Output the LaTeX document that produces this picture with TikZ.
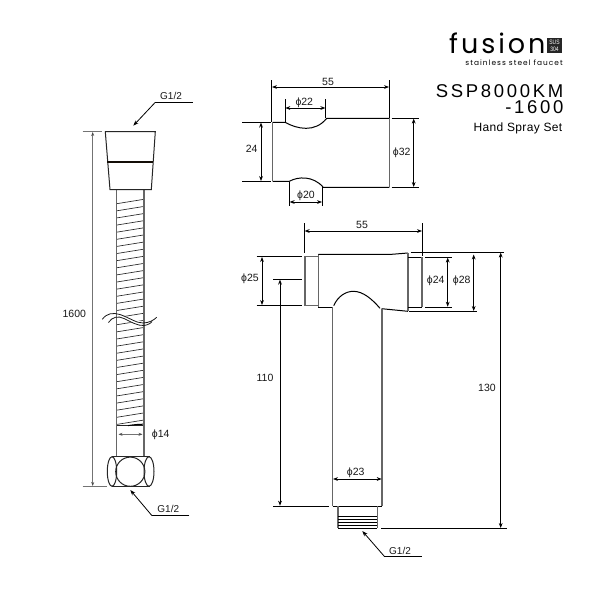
\documentclass[tikz,border=0pt]{standalone}
\usepackage{fontspec}
\setmainfont{Liberation Sans}
\newfontfamily\logofont[LetterSpace=11]{Poppins}
\newfontfamily\subfont[LetterSpace=14]{Poppins}
\newfontfamily\modelfont[LetterSpace=14.5]{Liberation Sans}
\newfontfamily\setfont[LetterSpace=3]{Liberation Sans}
\usetikzlibrary{arrows.meta}
\tikzset{
  outline/.style={black,line width=1pt},
  grayline/.style={black!60,line width=1.3pt},
  thinline/.style={black!90,line width=0.8pt},
  extline/.style={black,line width=0.8pt},
  grayext/.style={black!55,line width=0.7pt},
  dimline/.style={black,line width=0.8pt,{Stealth[length=5pt,width=3.8pt]}-{Stealth[length=5pt,width=3.8pt]}},
  graydim/.style={black!55,line width=0.9pt,{Stealth[length=4pt,width=3pt,black!70]}-{Stealth[length=4pt,width=3pt,black!70]}},
  leader/.style={black,line width=0.8pt,-{Stealth[length=5.5pt,width=4pt]}},
  dimtext/.style={font=\fontsize{10.5}{12}\selectfont,inner sep=0pt,black!90},
}
\begin{document}
\begin{tikzpicture}[x=1pt,y=-1pt]
\useasboundingbox (0,0) rectangle (600,600);
\fill[white] (0,0) rectangle (600,600);

% ---- logo and title
\node[anchor=base west,inner sep=0pt,font=\logofont\fontsize{27}{27}\selectfont] (logo) at (449,53) {fusion};
\fill[black!85] (547,38) rectangle (562,53);
\node[inner sep=0pt,white,font=\fontsize{6.4}{7}\selectfont] (sus) at (554.5,41.8) {\scalebox{0.78}[1]{SUS}};
\node[inner sep=0pt,white,font=\fontsize{6.4}{7}\selectfont] (grade) at (554.5,49.4) {\scalebox{0.78}[1]{304}};
\node[anchor=base east,inner sep=0pt,font=\subfont\fontsize{7.4}{8}\selectfont] (tag) at (563,65) {stainless steel faucet};
\node[anchor=base east,inner sep=0pt,font=\modelfont\fontsize{18.5}{20}\selectfont] (model) at (563.5,97) {SSP8000KM};
\node[anchor=base east,inner sep=0pt,font=\modelfont\fontsize{18.5}{20}\selectfont] (model2) at (563.5,113) {-1600};
\node[anchor=base east,inner sep=0pt,font=\setfont\fontsize{12}{14}\selectfont] (setname) at (562.5,131) {Hand Spray Set};

% ---- hose: threads
\begin{scope}
\clip (116.7,190) rectangle (144,424);
\foreach \k in {0,...,31}{
  \pgfmathsetmacro{\yy}{203.7+7.12*\k}
  \draw[black!85,line width=0.65pt] (116.7,\yy) -- (144,\yy-4.4);
}
\end{scope}
\fill[white] (116,317) .. controls (125,313) and (135,322) .. (146,322) -- (146,326) .. controls (135,326) and (125,318) .. (116,321) -- cycle;
\draw[black!85,line width=0.65pt] (116.7,425.7) -- (144,425.7);
\draw[black,line width=1pt] (128,425.6) .. controls (134,424.6) and (139,424.2) .. (144,424.2);

% ---- hose: sides
\draw[grayline,line width=1.1pt] (116.7,190) -- (116.7,456.7);
\draw[grayline,line width=1.1pt] (144,190) -- (144,456.7);

% ---- head
\draw[outline,black!85,fill=white] (105.3,131.7) -- (155.3,131.7) -- (151.3,189.7) -- (110,189.7) -- cycle;
\draw[line width=2pt,black!90!brown] (107.3,161.7) -- (153.3,161.7);

% ---- nut
\draw[outline,black!85] (111.7,456.7) -- (150,456.7) (111.7,486.3) -- (150,486.3);
\draw[outline,black!85] (112,471.5) ellipse (4.7 and 14.8);
\draw[outline,black!85] (149,471.5) ellipse (5 and 14.8);
\draw[outline,black!85] (130.3,471.7) circle (14.6);

% ---- break waves
\draw[thinline] (102.3,319.3) .. controls (107,313) and (113,312.5) .. (120,314.5) .. controls (130,318) and (136,323) .. (143,323) .. controls (149,323) and (154,320) .. (156.7,317.3);
\draw[thinline] (108.5,322.5) .. controls (112,317) and (118,315.5) .. (124,318.5) .. controls (131,322) and (138,326) .. (144,325.5) .. controls (148,325) and (151,323) .. (152,321.5);

% ---- hose dimensions
\draw[grayext] (82.7,131.7) -- (102.3,131.7);
\draw[grayext] (82.7,486.3) -- (107,486.3);
\draw[graydim] (92.7,132) -- (92.7,486);
\node[dimtext] (lenh) at (74.3,313.7) {1600};
\draw[graydim,line width=0.7pt] (118.5,434.3) -- (142.5,434.3);
\node[dimtext] (dhose) at (160.7,434.7) {ϕ14};

\coordinate (gtopa) at (133.3,125.7);
\coordinate (gbota) at (130.3,490);
\coordinate (gtopb) at (155.3,102.3);
\coordinate (gbotb) at (152,515.7);
\draw[extline] (192.7,102.3) -- (gtopb);
\draw[leader] (gtopb) -- (gtopa);
\node[dimtext,font=\fontsize{10}{11}\selectfont] (gtop) at (171,96.3) {G1/2};
\draw[extline] (189.3,515.7) -- (gbotb);
\draw[leader] (gbotb) -- (gbota);
\node[dimtext,font=\fontsize{10}{11}\selectfont] (gbot) at (168.3,509.3) {G1/2};

% ---- mount
\draw[outline] (272.7,122.3) -- (285,122.3) .. controls (297,129) and (315,133) .. (326.7,118.3) -- (389.3,118.3);
\draw[outline] (272.7,181.3) -- (289.3,181.3) .. controls (298,176.5) and (313,175.5) .. (323.3,187.3) -- (389.3,187.3);
\draw[grayline] (272.7,122.3) -- (272.7,181.3);
\draw[grayline] (389.3,118.3) -- (389.3,187.3);
% mount dimensions
\draw[extline] (271.7,80) -- (271.7,122);
\draw[extline] (389.3,80) -- (389.3,118);
\draw[dimline] (272,87) -- (389,87);
\node[dimtext] (m55) at (328,81.5) {55};
\draw[extline] (285,99.3) -- (285,122);
\draw[extline] (325.7,99.3) -- (325.7,118);
\draw[dimline] (285.3,108) -- (325.4,108);
\node[dimtext] (m22) at (304.3,102.7) {ϕ22};
\draw[extline] (289.3,181.7) -- (289.3,205.7);
\draw[extline] (322.3,187) -- (322.3,205.7);
\draw[dimline] (289.6,202) -- (322,202);
\node[dimtext] (m20) at (306,196) {ϕ20};
\draw[extline] (242.3,122.3) -- (270.7,122.3);
\draw[extline] (242.3,181.3) -- (270.7,181.3);
\draw[dimline] (261,122.6) -- (261,181);
\node[dimtext] (m24) at (251.7,149.3) {24};
\draw[extline] (391.7,118.3) -- (419,118.3);
\draw[extline] (391.7,187.3) -- (419,187.3);
\draw[dimline] (413.7,118.6) -- (413.7,187);
\node[dimtext] (m32) at (401.7,153) {ϕ32};

% ---- hand spray body
\draw[grayline] (318.3,256.7) -- (305,256.7) -- (305,305.7) -- (318.3,305.7);
\draw[grayline,line width=1.1pt] (318.3,254.3) -- (318.3,307);
\draw[outline] (318.3,254.3) -- (391.7,254.3) -- (408,253);
\draw[outline] (318.3,307) -- (332.7,307);
\draw[outline] (333.7,305.7) .. controls (338,296) and (346,291.3) .. (353.3,291.3) .. controls (363,291.3) and (372,299) .. (380,308.3);
\draw[outline] (381.7,308.7) -- (408,311.3);
\draw[grayline] (408,253) -- (408,311.3);
\draw[outline] (408,257.3) -- (422,257.3) (408,307) -- (422,307);
\draw[grayline] (422,257.3) -- (422,307);
\draw[grayline] (332.7,307) -- (332.7,506);
\draw[grayline] (382,308.5) -- (382,506);
\draw[outline] (332.7,506) -- (382,506);
\draw[grayline,line width=1.1pt] (338,506) -- (338,528.3);
\draw[grayline,line width=1.1pt] (377.3,506) -- (377.3,528.3);
\foreach \yy in {516.7,519.3,522,525,528.3}{
  \draw[outline,line width=0.8pt] (338,\yy) -- (377.3,\yy);
}

% ---- hand spray dimensions
\draw[extline] (304.3,223.3) -- (304.3,253.3);
\draw[extline] (422.3,223.3) -- (422.3,255.7);
\draw[dimline] (304.6,231) -- (422,231);
\node[dimtext] (s55) at (362,225) {55};
\draw[extline] (256.7,256.7) -- (301.7,256.7);
\draw[extline] (256.7,305.3) -- (301.7,305.3);
\draw[dimline] (262,257) -- (262,305);
\node[dimtext] (s25) at (250,278.7) {ϕ25};
\draw[extline] (273.3,279.3) -- (301.7,279.3);
\draw[extline] (273.3,506) -- (329.3,506);
\draw[dimline] (280,279.6) -- (280,505.7);
\node[dimtext] (s110) at (265,378) {110};
\draw[extline] (410.7,252.3) -- (504.3,252.3);
\draw[extline] (381,528.3) -- (506.7,528.3);
\draw[dimline] (500.7,252.6) -- (500.7,528);
\node[dimtext] (s130) at (487,388) {130};
\draw[extline] (425,257.3) -- (451.7,257.3);
\draw[extline] (425,307) -- (451.7,307);
\draw[dimline] (447.7,257.6) -- (447.7,306.7);
\node[dimtext] (s24) at (435.7,281) {ϕ24};
\draw[extline] (409.3,311.3) -- (477.3,311.3);
\draw[dimline] (473.7,254.5) -- (473.7,311);
\node[dimtext] (s28) at (461.7,281) {ϕ28};
\draw[dimline] (333,479) -- (381.7,479);
\node[dimtext] (s23) at (355.7,472.7) {ϕ23};

\coordinate (gspa) at (362.3,531);
\coordinate (gspb) at (384.3,556.3);
\draw[extline] (421.7,556.3) -- (gspb);
\draw[leader] (gspb) -- (gspa);
\node[dimtext,font=\fontsize{10}{11}\selectfont] (gsp) at (400,550.5) {G1/2};
\end{tikzpicture}
\end{document}
